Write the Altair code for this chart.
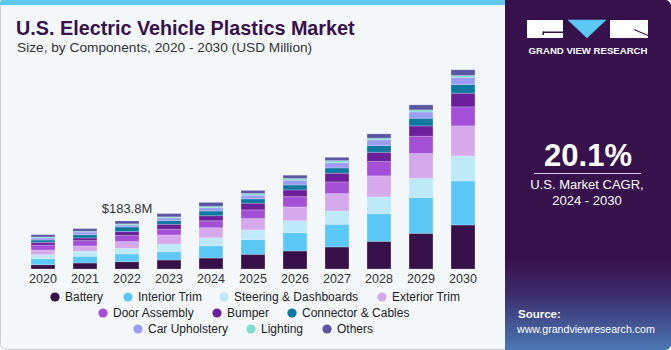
import altair as alt
import pandas as pd

years = ["2020", "2021", "2022", "2023", "2024", "2025", "2026", "2027", "2028", "2029", "2030"]
components = ["Battery", "Interior Trim", "Steering & Dashboards", "Exterior Trim", "Door Assembly",
              "Bumper", "Connector & Cables", "Car Upholstery", "Lighting", "Others"]
colors = ["#37104a", "#5bc8f5", "#bde9f9", "#d5a9ec", "#a34fd6",
          "#6c1f9a", "#0c78a0", "#9c9cf7", "#7ddfcb", "#5a55a5"]

battery = [16.5, 23.0, 28.0, 34.5, 42.0, 56.3, 69.0, 84.3, 106.0, 136.7, 168.5]
interior = [23.0, 25.7, 29.5, 31.8, 47.0, 56.3, 70.0, 86.9, 106.0, 136.7, 168.5]
steering = [15.3, 19.2, 21.8, 29.5, 30.6, 37.1, 46.0, 51.0, 64.0, 73.9, 95.8]
exterior = [18.0, 20.3, 25.7, 34.5, 38.3, 43.3, 52.5, 66.3, 80.4, 94.6, 114.9]
door = [19.0, 20.3, 23.0, 21.8, 26.8, 33.3, 39.5, 44.8, 54.8, 66.3, 72.8]
bumper = [10.3, 10.3, 15.3, 19.2, 19.2, 25.7, 25.7, 33.3, 35.6, 39.5, 52.5]
connector = [8.8, 12.6, 18.0, 14.2, 18.0, 16.5, 19.2, 20.3, 25.7, 29.5, 33.3]
upholstery = [7.7, 10.3, 7.7, 10.3, 12.6, 14.2, 18.0, 20.3, 21.8, 24.1, 26.8]
lighting = [4.0, 2.7, 3.8, 3.8, 5.0, 6.5, 6.5, 7.7, 6.5, 7.7, 7.7]
others = [8.8, 10.3, 11.0, 12.6, 15.3, 11.5, 12.6, 12.6, 16.5, 19.2, 21.8]

series = [battery, interior, steering, exterior, door, bumper, connector, upholstery, lighting, others]

annot_year = "2022"
annot_label = "$183.8M"

title = "U.S. Electric Vehicle Plastics Market"
subtitle = "Size, by Components, 2020 - 2030 (USD Million)"
cagr = "20.1%"
cagr_l1 = "U.S. Market CAGR,"
cagr_l2 = "2024 - 2030"

rows = []
for ci, (comp, vals) in enumerate(zip(components, series)):
    for y, v in zip(years, vals):
        rows.append({"year": y, "component": comp, "value": v, "order": ci})
df = pd.DataFrame(rows)

totals = pd.DataFrame({"year": years, "total": [sum(s[i] for s in series) for i in range(len(years))]})
annot_df = totals[totals.year == annot_year].assign(label=annot_label)

# legend layout (pixel positions of items)
leg_x = [55, 128, 224, 382, 103, 217, 292, 138, 251, 327]
leg_y = [297, 297, 297, 297, 313, 313, 313, 329, 329, 329]
leg_df = pd.DataFrame({"component": components, "lx": leg_x, "ly": leg_y,
                       "tx": [x + 10 for x in leg_x]})

FONT = "Liberation Sans"
W, H = 671, 350

xscale = alt.Scale(domain=years, range=[22, 484], paddingInner=0.43, paddingOuter=0.215)
yscale = alt.Scale(domain=[0, 800], range=[269, 60])
cscale = alt.Scale(domain=components, range=colors)

one = pd.DataFrame({"a": [0]})
base = alt.Chart(one)

bg = base.mark_rect(fill="#f4f8fb", stroke="#cdd1d5", strokeWidth=1, cornerRadius=6).encode(
    x=alt.value(0.5), x2=alt.value(W - 0.5), y=alt.value(0.5), y2=alt.value(H - 0.5))
strip = base.mark_rect(fill="#5bc8f5", cornerRadiusTopLeft=5).encode(
    x=alt.value(0), x2=alt.value(510), y=alt.value(0), y2=alt.value(5))
panel = base.mark_rect(
    cornerRadiusTopRight=6, cornerRadiusBottomRight=6,
    color=alt.Gradient(gradient="linear", x1=0, y1=0, x2=0, y2=1,
                       stops=[alt.GradientStop(color="#37114b", offset=0),
                              alt.GradientStop(color="#37114b", offset=0.74),
                              alt.GradientStop(color="#3c2c6c", offset=0.84),
                              alt.GradientStop(color="#4a78b4", offset=1)])).encode(
    x=alt.value(505), x2=alt.value(W), y=alt.value(0), y2=alt.value(H))

# logo
logo_l = base.mark_rect(fill="white").encode(x=alt.value(527), x2=alt.value(563), y=alt.value(20), y2=alt.value(38))
logo_r = base.mark_rect(fill="white").encode(x=alt.value(610), x2=alt.value(648), y=alt.value(20), y2=alt.value(38))
logo_g1 = base.mark_rect(fill="#37114b").encode(x=alt.value(543), x2=alt.value(563), y=alt.value(31.5), y2=alt.value(33))
logo_g2 = base.mark_rect(fill="#37114b").encode(x=alt.value(542.5), x2=alt.value(544), y=alt.value(31.5), y2=alt.value(35))
logo_r1 = base.mark_rule(color="#37114b", strokeWidth=1.2).encode(
    x=alt.value(634), x2=alt.value(648), y=alt.value(29.5), y2=alt.value(35.5))
tri_df = pd.DataFrame({"px": [568, 606, 587, 568], "py": [20, 20, 38, 20], "o": [0, 1, 2, 3]})
logo_t = alt.Chart(tri_df).mark_line(fill="#5bc8f5", stroke="#5bc8f5", strokeWidth=0.5, interpolate="linear").encode(
    x=alt.X("px:Q", scale=None), y=alt.Y("py:Q", scale=None), order="o:O")
logo_txt = base.mark_text(text="GRAND VIEW RESEARCH", font=FONT, fontSize=9.6, fontWeight="bold",
                          color="white", align="center", baseline="middle").encode(
    x=alt.value(588), y=alt.value(51))

cagr_t = base.mark_text(text=cagr, font=FONT, fontSize=31, fontWeight="bold", color="white",
                        align="center", baseline="alphabetic").encode(x=alt.value(588), y=alt.value(166))
cagr_rule = base.mark_rule(color="#d8cde0", strokeWidth=1).encode(
    x=alt.value(534), x2=alt.value(641), y=alt.value(173.5))
cagr_1 = base.mark_text(text=cagr_l1, font=FONT, fontSize=13, color="white", align="center",
                        baseline="middle").encode(x=alt.value(587), y=alt.value(185))
cagr_2 = base.mark_text(text=cagr_l2, font=FONT, fontSize=13, color="white", align="center",
                        baseline="middle").encode(x=alt.value(587), y=alt.value(201))
src_1 = base.mark_text(text="Source:", font=FONT, fontSize=11.5, fontWeight="bold", color="white",
                       align="left", baseline="middle").encode(x=alt.value(518), y=alt.value(315))
src_2 = base.mark_text(text="www.grandviewresearch.com", font=FONT, fontSize=10.6, color="white",
                       align="left", baseline="middle").encode(x=alt.value(517), y=alt.value(330))

title_t = base.mark_text(text=title, font=FONT, fontSize=19.8, fontWeight="bold", color="#37114b",
                         align="left", baseline="alphabetic").encode(x=alt.value(16), y=alt.value(35))
sub_t = base.mark_text(text=subtitle, font=FONT, fontSize=13.7, color="#333333",
                       align="left", baseline="alphabetic").encode(x=alt.value(17), y=alt.value(52))

bars = alt.Chart(df).mark_bar(stroke="#f4f8fb", strokeWidth=0.4, strokeOpacity=0.6).encode(
    x=alt.X("year:N", scale=xscale, axis=None, sort=years),
    y=alt.Y("sum(value):Q", scale=yscale, axis=None, stack="zero"),
    color=alt.Color("component:N", scale=cscale, legend=None),
    order=alt.Order("order:Q", sort="ascending"),
)

year_lbl = alt.Chart(totals).mark_text(font=FONT, fontSize=12.5, color="#333333", baseline="middle").encode(
    x=alt.X("year:N", scale=xscale, axis=None, sort=years),
    y=alt.value(279),
    text="year:N",
)

annot = alt.Chart(annot_df).mark_text(font=FONT, fontSize=13, color="#333333", baseline="alphabetic", dy=-8).encode(
    x=alt.X("year:N", scale=xscale, axis=None, sort=years),
    y=alt.Y("total:Q", scale=yscale, axis=None),
    text="label:N",
)

leg_pts = alt.Chart(leg_df).mark_point(filled=True, size=85, opacity=1, shape="circle").encode(
    x=alt.X("lx:Q", scale=None), y=alt.Y("ly:Q", scale=None),
    color=alt.Color("component:N", scale=cscale, legend=None),
)
leg_txt = alt.Chart(leg_df).mark_text(font=FONT, fontSize=12, color="#222222", align="left", baseline="middle").encode(
    x=alt.X("tx:Q", scale=None), y=alt.Y("ly:Q", scale=None), text="component:N",
)

chart = alt.layer(
    bg, strip, panel, logo_l, logo_r, logo_g1, logo_g2, logo_r1, logo_t, logo_txt,
    cagr_t, cagr_rule, cagr_1, cagr_2, src_1, src_2, title_t, sub_t,
    bars, year_lbl, annot, leg_pts, leg_txt,
).resolve_scale(x="independent", y="independent").properties(
    width=W, height=H, autosize=alt.AutoSizeParams(type="none"), padding=0, background="white"
).configure_view(stroke=None)

chart.save("out.html", embed_options={"renderer": "svg", "actions": False})
